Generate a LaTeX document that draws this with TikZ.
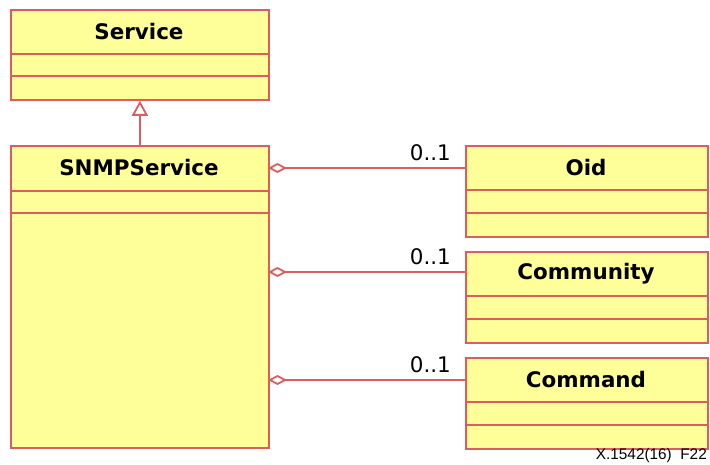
\documentclass[tikz,border=0pt]{standalone}
\usepackage{fontspec}
\setmainfont{DejaVu Sans}
\newfontfamily\capfont{Liberation Sans}
\usetikzlibrary{arrows.meta}
\definecolor{umlfill}{RGB}{255,255,153}
\definecolor{umlline}{RGB}{222,92,92}
\begin{document}
\begin{tikzpicture}[x=1bp,y=-1bp,
  cls/.style={draw=umlline,fill=umlfill,line width=1.8bp,rectangle,anchor=north west,inner sep=0pt},
  div/.style={draw=umlline,line width=1.8bp},
  ttl/.style={font=\fontsize{21.5}{24}\selectfont\bfseries,inner sep=0pt},
  mult/.style={font=\fontsize{21.5}{24}\selectfont,anchor=south east,inner sep=0pt},
  conn/.style={draw=umlline,line width=1.8bp}]
\useasboundingbox (0,0) rectangle (710,465);
% Service
\node[cls,minimum width=258bp,minimum height=90bp] (svc) at (10,9) {};
\draw[div] (10,54) -- (268,54);
\draw[div] (10,76) -- (268,76);
\node[ttl] (svct) at (139,31.5) {Service};
% SNMPService
\node[cls,minimum width=258bp,minimum height=302bp] (snmp) at (10,145) {};
\draw[div] (10,191) -- (268,191);
\draw[div] (10,213) -- (268,213);
\node[ttl] (snmpt) at (139,168) {SNMPService};
% Oid
\node[cls,minimum width=242bp,minimum height=91bp] (oid) at (465,145) {};
\draw[div] (465,190) -- (707,190);
\draw[div] (465,213) -- (707,213);
\node[ttl] (oidt) at (586,167.5) {Oid};
% Community
\node[cls,minimum width=242bp,minimum height=91bp] (com) at (465,251) {};
\draw[div] (465,296) -- (707,296);
\draw[div] (465,319) -- (707,319);
\node[ttl] (comt) at (586,273.5) {Community};
% Command
\node[cls,minimum width=242bp,minimum height=91bp] (cmd) at (465,357) {};
\draw[div] (465,402) -- (707,402);
\draw[div] (465,425) -- (707,425);
\node[ttl] (cmdt) at (586,379.5) {Command};
% generalization
\draw[conn,-{Triangle[open,length=15bp,width=16bp]}] (snmp.north) -- (svc.south);
% aggregations
\coordinate (a1) at (268,168);
\coordinate (b1) at (465,168);
\coordinate (a2) at (268,272);
\coordinate (b2) at (465,272);
\coordinate (a3) at (268,380);
\coordinate (b3) at (465,380);
\draw[conn,{Diamond[open,length=19bp,width=10bp]}-] (a1) -- (b1);
\draw[conn,{Diamond[open,length=19bp,width=10bp]}-] (a2) -- (b2);
\draw[conn,{Diamond[open,length=19bp,width=10bp]}-] (a3) -- (b3);
\node[mult] (m1) at (451,161) {0..1};
\node[mult] (m2) at (451,265) {0..1};
\node[mult] (m3) at (451,373) {0..1};
% caption
\node[font=\capfont\fontsize{15.4}{17}\selectfont,anchor=south east,inner sep=0pt] (cap) at (707,463) {X.1542(16)\ \ F22};
\end{tikzpicture}
\end{document}
